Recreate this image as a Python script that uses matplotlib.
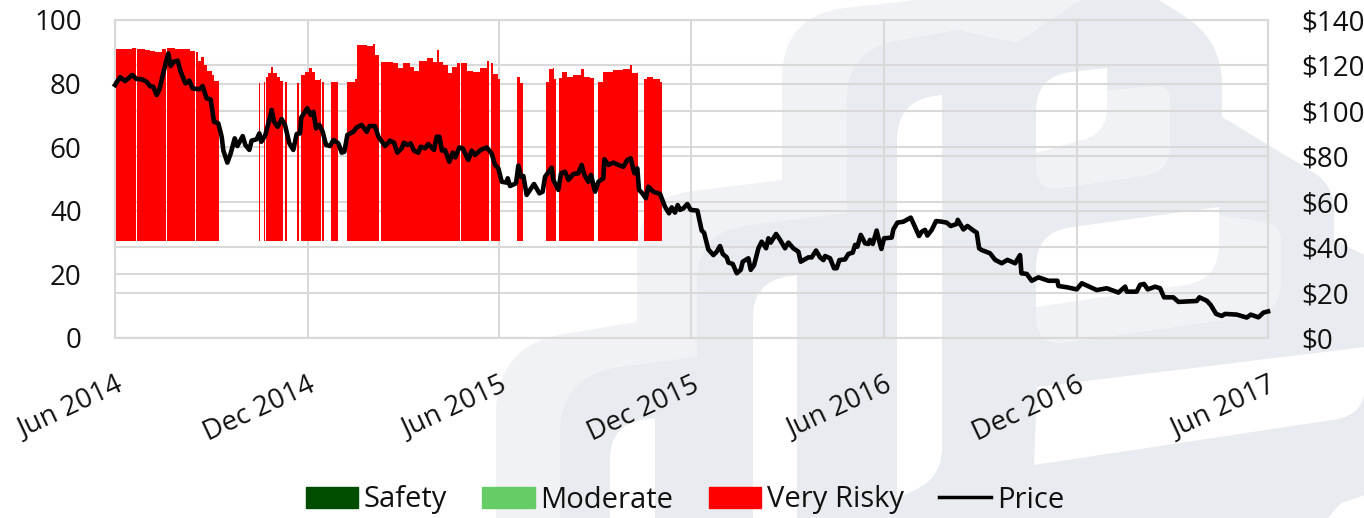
import numpy as np
import pandas as pd
import matplotlib
matplotlib.use("Agg")
import matplotlib.pyplot as plt
from matplotlib.patches import Patch, PathPatch
from matplotlib.path import Path
from matplotlib.lines import Line2D
from matplotlib.transforms import Affine2D

plt.rcParams['font.family'] = ['Open Sans', 'DejaVu Sans']

START = pd.Timestamp('2014-06-01')
tick_dates = ['2014-06-01', '2014-12-01', '2015-06-01', '2015-12-01', '2016-06-01', '2016-12-01', '2017-06-01']
tick_labels = ['Jun 2014', 'Dec 2014', 'Jun 2015', 'Dec 2015', 'Jun 2016', 'Dec 2016', 'Jun 2017']
score_ticks = [0, 20, 40, 60, 80, 100]
price_ticks = [0, 20, 40, 60, 80, 100, 120, 140]
score_base = 30.5

# days since Jun 2014, each score holds until the next day in the list (nan = no bar)
risk_days = [0, 8, 16, 20, 21, 28.5, 33.3, 38, 44.4, 48.8, 49.8, 57, 65, 71.3, 76, 77, 79.2, 81.4, 84.6, 87.8,
             91.9, 94.4, 99.2, 136.6, 137.5, 141.3, 142.6, 143.6, 145.8, 148.3, 150.5, 153.7, 156.9, 159.4,
             161.6, 163.2, 172.7, 175.2, 176.5, 180.6, 184.4, 186.9, 190.1, 194.9, 196.2, 197.1, 198.4, 205.3,
             212.3, 220.6, 228.2, 230.4, 239.3, 245.6, 247.5, 251.3, 252.6, 259.9, 264.6, 269.3, 274, 280.4,
             284.2, 289.3, 296.3, 302.6, 305.8, 308.3, 312.1, 316.9, 320, 324.8, 328, 329.2, 334.9, 340.6,
             347, 353.3, 355.8, 357.4, 359.6, 364.4, 366, 382.1, 385, 388.2, 410, 412.9, 416, 417.3, 419.2,
             420.8, 421.4, 422.4, 424.6, 429.4, 435.7, 443, 446.2, 451.5, 455.7, 459.5, 464.2, 473.7, 483.2,
             489.6, 491.8, 496.9, 503.2, 506, 511.7, 518, 519.7]
nan = float('nan')
risk_scores = [90.9, 91, 91.1, nan, 91, 90.6, 90.3, 89.9, 90.8, nan, 91.2, 91, 90.8, 90.4, nan, 89.8, 87.2, 88.3, 85.8, 84.1,
               82.7, 80.9, nan, 80.1, nan, 80.6, nan, 82.2, 83.2, 85.3, 83.2, 82.2, 80.8, nan,
               80.6, nan, 80.1, nan, 82.7, 83.8, 84.8, 83.8, 81.1, 81.3, nan, 80.6, nan, 80.6,
               nan, 80.6, 81.3, 92.1, 91.8, 92.5, 89, nan, 86.9, 86.9, 86.4, 84.8, 86.4, 85.3,
               84.1, 87.2, 87.9, 86.9, 90.6, 86.9, 85.8, 83.2, 85.3, 86.4, nan, 86.4, 84.1, 83.8,
               84.8, 87.2, nan, 86.4, 83, 81.3, nan, 82.2, 80.3, nan, 80.6, 84.5, 84.8, 81.3, nan,
               80.8, nan, 81.7, 83.5, 82, 82.7, 84.6, 82.2, 81.7, nan, 80.6, 83.8, 84.3, 84.5,
               85.8, 83.2, nan, 81.3, 82, 81.4, 80.6, nan]

price_days = [0, 4.8, 9.5, 16.5, 20.6, 25.4, 30.1, 33.3, 36.4, 39.6, 42.1, 46.6, 50.7, 52.9, 56.1, 59.6, 62.4, 66.9,
              70.7, 73.8, 80.2, 83.3, 87.1, 90.9, 94.1, 98.2, 101.4, 103, 106.8, 110, 113.8, 116.3, 121.4, 123.9,
              127.7, 129.9, 134.7, 137.2, 139.1, 142.9, 145.8, 148.9, 151.2, 154.6, 158.4, 161.6, 165.7, 169.5,
              172.7, 175.9, 177.1, 182.8, 186, 188.6, 191.1, 194.3, 197.4, 200.6, 204.4, 207.6, 212.3, 215.5, 218,
              220.9, 226.6, 229.7, 234.5, 239.3, 241.8, 247.2, 250.4, 256.7, 261.4, 265.2, 268.4, 272.5, 274.7,
              277.9, 281, 284.2, 288.3, 290.6, 294.7, 297.8, 303.2, 305.8, 308.3, 310.8, 313.7, 317.8, 321, 323.5,
              327.3, 330.5, 335.9, 339, 342.2, 347.6, 353.3, 358, 361.2, 364.4, 367.6, 372.3, 373.3, 375.5, 381.2,
              383.4, 386, 388.2, 391.3, 398.3, 403.4, 406.5, 408.8, 415.1, 416.7, 421.4, 424, 427.8, 431, 435.7,
              440.4, 443.6, 446.2, 450, 452.5, 456.3, 459.5, 464.2, 465.2, 469, 473.7, 478.5, 483.2, 487, 490.2,
              493.7, 496.5, 498.1, 501.3, 504.5, 507, 511.7, 518.1, 522.8, 526.6, 529.2, 532.3, 534.9, 537.1, 540.3,
              544.1, 547.2, 553.6, 557.7, 559.9, 564, 568.8, 572, 575.1, 577.7, 581.5, 583.1, 587.2, 591, 594.8,
              596.7, 602.1, 604.3, 607.5, 611.6, 614.7, 618.9, 621.1, 623.3, 628.4, 632.2, 636.9, 640.1, 644.8,
              649.6, 651.8, 659.1, 662.3, 666.4, 670.2, 673.4, 675, 679.7, 683.5, 686, 688.6, 694, 697.1, 701.3,
              703.5, 705.7, 708.9, 713, 716.1, 717.7, 720.3, 724, 726.3, 728.5, 731, 738.3, 739.9, 743.7, 749.4,
              756.4, 758.9, 764.3, 766.9, 770, 772.2, 776.4, 780.5, 785.9, 790.6, 794.4, 800.1, 801.1, 806.5,
              810.3, 816, 819.1, 821.4, 823.9, 828, 831.8, 836.6, 842.9, 848.3, 855.6, 860.3, 861.6, 866.7, 871.4,
              877.8, 887.3, 895.8, 896.8, 905.3, 914.2, 919, 933.2, 942.7, 953.8, 960.2, 961.7, 971.2, 974.4,
              978.2, 981.7, 988.7, 993.4, 997.2, 1006, 1010.9, 1028.3, 1030.8, 1037.8, 1041.6, 1046.7, 1052, 1055.2,
              1066.3, 1075.8, 1079.6, 1086.9, 1091.7, 1096]
price_values = [111.4, 114.8, 113.1, 115.8, 114, 113.9, 112.8, 110.9, 110.6, 107, 109.2, 118, 125.3, 119.7, 121.7, 122.1, 117.3, 112.1,
                113.3, 109.9, 109.5, 110.9, 105.5, 105.1, 95.2, 94.5, 88.6, 82.5, 77.2, 81.3, 87.9, 84.5, 88.9, 85,
                82.8, 86.9, 87.5, 90.1, 86.4, 89.4, 94.5, 100.4, 95.2, 93, 96.4, 93.8, 85.7, 82.8,
                89.8, 90.1, 97.1, 101.1, 98.2, 99.6, 92.3, 93.8, 90.8, 85, 84.5, 87.2, 85.7, 81.6, 82,
                89.4, 90.8, 92.7, 93.8, 90.8, 93.3, 93.3, 88.6, 84.5, 86.9, 86, 81.6, 83.5, 86,
                85, 85.7, 82.5, 81.6, 84.2, 83.5, 85.4, 82.8, 88.6, 88.6, 82.5, 82.8, 77.6, 81.6, 79.5,
                83.9, 83.5, 78.4, 82.5, 80.6, 82.8, 83.9, 81.3, 76.2, 74.7, 68.8, 68.4, 70.3, 66.9, 68.1,
                75.9, 71, 71.3, 63, 67.8, 63.7, 64.4, 71, 75, 69.6, 65.2, 72.5, 73.2, 69.6, 72.2,
                72.5, 76.2, 71.8, 68.8, 71.8, 64.4, 68.8, 70.3, 78.7, 76.2, 77.2, 76.2, 75.4, 78.4, 79.1,
                72.5, 74.7, 65.2, 63.7, 61.5, 66.6, 64.4, 63.4, 57.8, 54.9, 57.5, 55.2, 58.5, 56.4, 57.1,
                59, 56.4, 56.1, 47.3, 46.4, 39, 36.5, 38, 40.5, 37, 35.5, 33.2, 32.6, 28.5, 30,
                33.6, 35.1, 30, 32.1, 39.5, 42.4, 39.5, 43.9, 42, 45.8, 43.2, 39.5, 42, 39.5,
                38, 33.6, 35.5, 35.5, 38.5, 35.5, 34.3, 36.1, 35.1, 30.7, 30.7, 34.3, 34.6, 37, 37.6,
                41, 40.2, 45.4, 41.7, 41.4, 43.2, 41.4, 47.3, 42.9, 39.2, 43.9, 44.2, 47.8, 50.8, 51.2,
                53, 50.5, 44.9, 46.8, 47.6, 45.1, 47.6, 51.5, 51.2, 50.8, 49.3, 50.2, 52, 47.8,
                49.3, 47.3, 46.4, 39.5, 38.7, 38, 37.3, 34.4, 32.9, 34.4, 32.9, 36.5, 28.5, 28.2, 25.2,
                26.7, 25.2, 25.2, 22.9, 22.3, 21.4, 24.1, 21.1, 21.9, 20, 22.6, 20.4, 20.4, 23.4,
                23.8, 21.4, 22.6, 21.9, 17.9, 17.9, 15.9, 16.3, 17.9, 16.4, 14.5, 10.6, 9.7, 10.6,
                10.3, 9, 10.3, 9.1, 11.2, 11.7]

# logo behind the chart: corners in picture pixels, third number is the corner radius
LOGO_LIGHT = '#f0f2f5'
LOGO_DARK = '#e8ebef'
right_side = [(1154, -3, 0), (1222, 40, 45), (1222, 117, 0), (1334, 185, 25), (1334, 240, 0), (1364, 255, 0), (1364, 518, 0)]
logo_outer = [(496, 518, 0), (496, 345, 70), (637, 322, 0), (637, 198, 55), (782, 180, 0), (782, 15, 65), (960, -5, 0)] + right_side
logo_inner = [(560, 518, 0), (560, 375, 60), (697, 357, 0), (697, 232, 50), (847, 213, 0), (847, 50, 50), (957, 30, 0),
              (1017, 43, 0), (1085, -3, 0)] + right_side
logo_soft = [
    [(1107, 90, 0), (1170, 85, 15), (1170, 172, 25), (1036, 192, 25), (1036, 113, 0)],
    [(1219, 215, 0), (1281, 225, 15), (1281, 312, 30), (1036, 347, 30), (1036, 290, 0)],
]
logo_holes = [
    [(1107, 68, 0), (1107, 133, 25), (1036, 153, 0), (1036, 76, 35)],
    [(1219, 207, 0), (1219, 280, 35), (1036, 307, 0), (1036, 232, 35)],
    [(942, 95, 0), (942, 478, 30), (897, 498, 0), (897, 100, 40)],
    [(797, 275, 0), (797, 519, 0), (753, 519, 0), (753, 282, 35)],
    [(655, 418, 0), (655, 519, 0), (610, 519, 0), (610, 424, 35)],
    [(1037, 387, 0), (1365, 347, 0), (1365, 415, 30), (1034, 465, 0)],
    [(1327, 519, 0), (1341, 503, 0), (1365, 495, 0), (1365, 519, 0)],
]

GRID = '#d9d9d9'
TEXT = '#111111'
FS = 20


def rounded_path(corners):
    verts, codes = [], []
    n = len(corners)
    for i, (x, y, r) in enumerate(corners):
        p = np.array([x, y], float)
        if r == 0:
            verts.append(p)
            codes.append(Path.LINETO)
            continue
        prev = np.array(corners[i - 1][:2], float)
        nxt = np.array(corners[(i + 1) % n][:2], float)
        a = p + (prev - p) / np.linalg.norm(prev - p) * r
        b = p + (nxt - p) / np.linalg.norm(nxt - p) * r
        verts += [a, p, b]
        codes += [Path.LINETO, Path.CURVE3, Path.CURVE3]
    codes[0] = Path.MOVETO
    verts.append(verts[0])
    codes.append(Path.CLOSEPOLY)
    return Path(verts, codes)


fig = plt.figure(figsize=(13.64, 5.18), dpi=100)

px = Affine2D().scale(1 / 1364, -1 / 518).translate(0, 1) + fig.transFigure


def add_logo_shape(corners, color, z):
    fig.add_artist(PathPatch(rounded_path(corners), fc=color, ec='none', transform=px, zorder=z))


add_logo_shape(logo_outer, LOGO_LIGHT, -5)
add_logo_shape(logo_inner, LOGO_DARK, -4)
for shape in logo_soft:
    add_logo_shape(shape, LOGO_LIGHT, -3)
for hole in logo_holes:
    add_logo_shape(hole, 'white', -2)

ax = fig.add_axes([115 / 1364, 1 - 338 / 518, (1268 - 115) / 1364, (338 - 20) / 518])
ax.patch.set_visible(False)

tick_days = (pd.to_datetime(tick_dates) - START).days.values
ax.set_xlim(0, tick_days[-1])
ax.set_ylim(0, 100)

ax.set_axisbelow(True)
ax.set_yticks(score_ticks)
ax.set_xticks(tick_days)
ax.grid(True, color=GRID, lw=1.5)
for p in price_ticks:
    ax.axhline(p / price_ticks[-1] * 100, color=GRID, lw=1.5, zorder=0.5)

days = np.array(risk_days)
scores = np.array(risk_scores)
ax.bar(days[:-1], scores[:-1] - score_base, width=np.diff(days), bottom=score_base, align='edge',
       color='#ff0000', lw=0, zorder=2)

for s in ax.spines.values():
    s.set_color(GRID)
    s.set_linewidth(1.5)

ax.tick_params(axis='y', length=0, pad=24, labelsize=FS, labelcolor=TEXT)
ax.tick_params(axis='x', length=0, pad=24, labelsize=FS, labelcolor=TEXT)
ax.set_xticklabels(tick_labels, rotation=25, ha='right', rotation_mode='anchor')

ax2 = ax.twinx()
ax2.patch.set_visible(False)
ax2.set_ylim(0, price_ticks[-1])
ax2.set_yticks(price_ticks)
ax2.set_yticklabels([f'${p}' for p in price_ticks])
ax2.tick_params(axis='y', length=0, pad=24, labelsize=FS, labelcolor=TEXT)
for s in ax2.spines.values():
    s.set_visible(False)
ax2.plot(price_days, price_values, color='black', lw=3.3, solid_joinstyle='round', clip_on=False)

handles = [Patch(color='#004d00', label='Safety'),
           Patch(color='#66cc66', label='Moderate'),
           Patch(color='#ff0000', label='Very Risky'),
           Line2D([], [], color='black', lw=2.5, label='Price')]
fig.legend(handles=handles, loc='center', bbox_to_anchor=(685 / 1364, 1 - 500 / 518), ncol=4, frameon=False,
           fontsize=21, handlelength=1.8, handleheight=0.7, handletextpad=0.2, columnspacing=1.2,
           labelcolor=TEXT)

fig.savefig('out.png', dpi=100)
